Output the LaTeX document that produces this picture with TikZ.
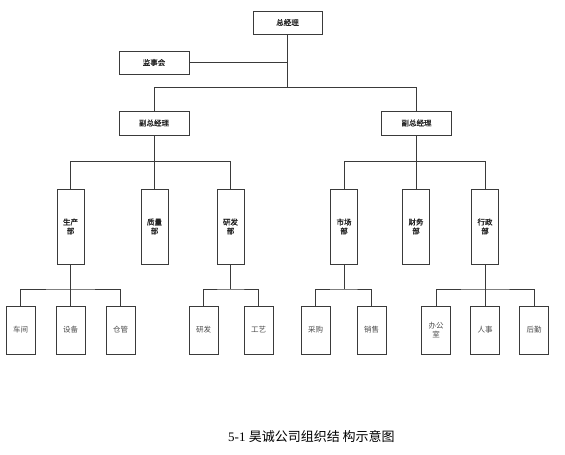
\documentclass[tikz,border=0pt]{standalone}
\usepackage{fontspec}
\setmainfont{Liberation Serif}
\newfontfamily\cjk{Noto Sans CJK SC}[AutoFakeBold=1.2]
\definecolor{ln}{HTML}{3A3A3A}
\definecolor{tx}{HTML}{222222}
\begin{document}
\begin{tikzpicture}[x=1pt,y=-1pt,
  box/.style={draw=ln,line width=1pt,fill=white,inner sep=0pt,align=center,
    font=\cjk\fontsize{7.5}{9}\selectfont,text=tx},
  hbox/.style={box,minimum width=70pt,minimum height=23pt,font=\cjk\bfseries\fontsize{7.5}{9}\selectfont},
  dbox/.style={box,minimum width=27pt,minimum height=75pt,font=\cjk\bfseries\fontsize{7.5}{9}\selectfont},
  lbox/.style={box,minimum width=29pt,minimum height=48pt,text=black!70},
  conn/.style={draw=ln,line width=1pt}]
\useasboundingbox (0,0) rectangle (565,455);
% top
\node[hbox,minimum width=69pt] (gm) at (287.5,22.5) {总经理};
\node[hbox] (jsh) at (154,62.5) {监事会};
\node[hbox,minimum height=24pt] (vp1) at (154,123) {副总经理};
\node[hbox,minimum height=24pt] (vp2) at (416.5,123) {副总经理};
% departments
\node[dbox] (scb) at (70.5,226.5) {生产\\部};
\node[dbox] (zlb) at (154.5,226.5) {质量\\部};
\node[dbox] (yfb) at (230.5,226.5) {研发\\部};
\node[dbox] (scb2) at (344,226.5) {市场\\部};
\node[dbox] (cwb) at (416,226.5) {财务\\部};
\node[dbox] (xzb) at (485,226.5) {行政\\部};
% leaves
\node[lbox] (cj) at (20.5,330) {车间};
\node[lbox] (sb) at (70.5,330) {设备};
\node[lbox] (cg) at (120.5,330) {仓管};
\node[lbox] (yf) at (203.5,330) {研发};
\node[lbox] (gy) at (258.5,330) {工艺};
\node[lbox] (cgo) at (315.5,330) {采购};
\node[lbox] (xs) at (371.5,330) {销售};
\node[lbox] (bgs) at (436,330) {办公\\室};
\node[lbox] (rs) at (485,330) {人事};
\node[lbox] (hq) at (534,330) {后勤};
% connectors
\draw[conn] (gm.south) -- ++(0,53) coordinate (t1);
\draw[conn] (jsh.east) -- (jsh.east -| gm.south);
\draw[conn] (vp1.north) |- (t1) -| (vp2.north);
\draw[conn] (vp1.south) -- ++(0,26) coordinate (b1);
\draw[conn] (scb.north) |- (b1) -| (yfb.north);
\draw[conn] (zlb.north) -- (zlb.north |- b1);
\draw[conn] (vp2.south) -- ++(0,26) coordinate (b2);
\draw[conn] (scb2.north) |- (b2) -| (xzb.north);
\draw[conn] (cwb.north) -- (cwb.north |- b2);
\draw[conn] (scb.south) -- ++(0,24.5) coordinate (c1);
\draw[conn] (cj.north) |- (c1) -| (cg.north);
\draw[conn] (sb.north) -- (c1);
\draw[conn] (yfb.south) -- ++(0,24.5) coordinate (c2);
\draw[conn] (yf.north) |- (c2) -| (gy.north);
\draw[conn] (scb2.south) -- ++(0,24.5) coordinate (c3);
\draw[conn] (cgo.north) |- (c3) -| (xs.north);
\draw[conn] (xzb.south) -- ++(0,24.5) coordinate (c4);
\draw[conn] (bgs.north) |- (c4) -| (hq.north);
\draw[conn] (rs.north) -- (c4);
% caption
\node[anchor=west,inner sep=0pt,font=\fontsize{13}{15}\selectfont] (cap) at (228,437)
  {5-1 {\cjk 昊诚公司组织结 构示意图}};
\end{tikzpicture}
\end{document}
